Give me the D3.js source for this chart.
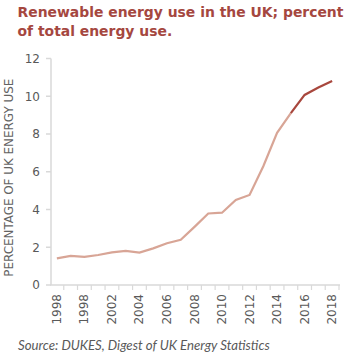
<!DOCTYPE html>
<html>
<head>
<script src="https://d3js.org/d3.v7.min.js"></script>
<style>
  body { margin: 0; background: #fff; }
  text { font-family: "DejaVu Sans", Verdana, sans-serif; }
</style>
</head>
<body>
<div id="chart"></div>
<script>
// renewable share of total UK energy use, %
var years = d3.range(1998, 2019);
var shares = [1.41, 1.54, 1.49, 1.59, 1.73, 1.81, 1.72, 1.94, 2.21, 2.40,
              3.08, 3.79, 3.83, 4.50, 4.77, 6.29, 8.06, 9.11, 10.07, 10.46, 10.81];
var highlightFrom = 2015;
var tickLabels = ["1998", "1998", "2002", "2004", "2006", "2008", "2010", "2012", "2014", "2016", "2018"];
var yTicks = [0, 2, 4, 6, 8, 10, 12];

var data = years.map(function(y, i) { return { year: y, value: shares[i] }; });

var W = 352, H = 357;
var svg = d3.select("#chart").append("svg").attr("width", W).attr("height", H);

var x = d3.scaleBand().domain(years).range([50, 339]);
var y = d3.scaleLinear().domain([0, 12]).range([285, 58.5]);
var cx = function(d) { return x(d) + x.bandwidth() / 2; };

// shrink a text's font size until it is as wide as the reference
function fitWidth(sel, target) {
  var fs = +sel.attr("font-size");
  var w = sel.node().getComputedTextLength();
  if (w > 0) sel.attr("font-size", (fs * target / w).toFixed(2));
  return +sel.attr("font-size");
}

// title
var title = svg.append("g").attr("fill", "#a5473f").attr("font-weight", "bold")
  .style("font-family", "Lato, 'Open Sans', sans-serif");
var t1 = title.append("text").attr("x", 17.5).attr("y", 17).attr("font-size", 18)
  .text("Renewable energy use in the UK; percent");
var tfs = fitWidth(t1, 326);
title.append("text").attr("x", 17.5).attr("y", 35.5).attr("font-size", tfs)
  .text("of total energy use.");

// y axis
svg.append("line").attr("x1", 51).attr("x2", 51).attr("y1", y(12)).attr("y2", y(0))
  .attr("stroke", "#d9d9d9").attr("stroke-width", 1.5);
svg.selectAll(".ytick").data(yTicks).enter().append("line")
  .attr("x1", 46).attr("x2", 51).attr("y1", function(d) { return y(d); }).attr("y2", function(d) { return y(d); })
  .attr("stroke", "#d9d9d9").attr("stroke-width", 1.5);
svg.selectAll(".ylab").data(yTicks).enter().append("text")
  .attr("x", 40).attr("y", function(d) { return y(d); }).attr("dy", "0.36em")
  .attr("text-anchor", "end").attr("font-size", 12).attr("fill", "#595959")
  .text(function(d) { return d; });

// x axis
svg.append("line").attr("x1", 50).attr("x2", 340).attr("y1", 285).attr("y2", 285)
  .attr("stroke", "#d9d9d9").attr("stroke-width", 1.5);
svg.selectAll(".xtick").data(years).enter().append("line")
  .attr("x1", function(d) { return x(d) + x.bandwidth(); }).attr("x2", function(d) { return x(d) + x.bandwidth(); })
  .attr("y1", 285).attr("y2", 290)
  .attr("stroke", "#d9d9d9").attr("stroke-width", 1.2);
svg.selectAll(".xlab").data(tickLabels).enter().append("text")
  .attr("transform", function(d, i) { return "translate(" + (cx(years[i * 2]) + 4) + ",294) rotate(-90)"; })
  .attr("text-anchor", "end").attr("font-size", 12).attr("fill", "#595959")
  .text(function(d) { return d; });

// y axis title
var yt = svg.append("text")
  .attr("transform", "translate(13," + ((y(0) + y(12)) / 2 + 6) + ") rotate(-90)")
  .attr("text-anchor", "middle").attr("font-size", 12).attr("fill", "#636363")
  .text("PERCENTAGE OF UK ENERGY USE");
fitWidth(yt, 198);

// line
var line = d3.line().x(function(d) { return cx(d.year); }).y(function(d) { return y(d.value); });
svg.append("path").datum(data.filter(function(d) { return d.year <= highlightFrom; }))
  .attr("d", line).attr("fill", "none").attr("stroke", "#d8a596").attr("stroke-width", 2.2);
svg.append("path").datum(data.filter(function(d) { return d.year >= highlightFrom; }))
  .attr("d", line).attr("fill", "none").attr("stroke", "#a8473d").attr("stroke-width", 2.2);

// source
var src = svg.append("text").attr("x", 18).attr("y", 350)
  .attr("font-size", 12).attr("font-style", "italic").attr("fill", "#595959")
  .style("font-family", "Lato, 'Open Sans', sans-serif")
  .text("Source: DUKES, Digest of UK Energy Statistics");
fitWidth(src, 252);
</script>
</body>
</html>
